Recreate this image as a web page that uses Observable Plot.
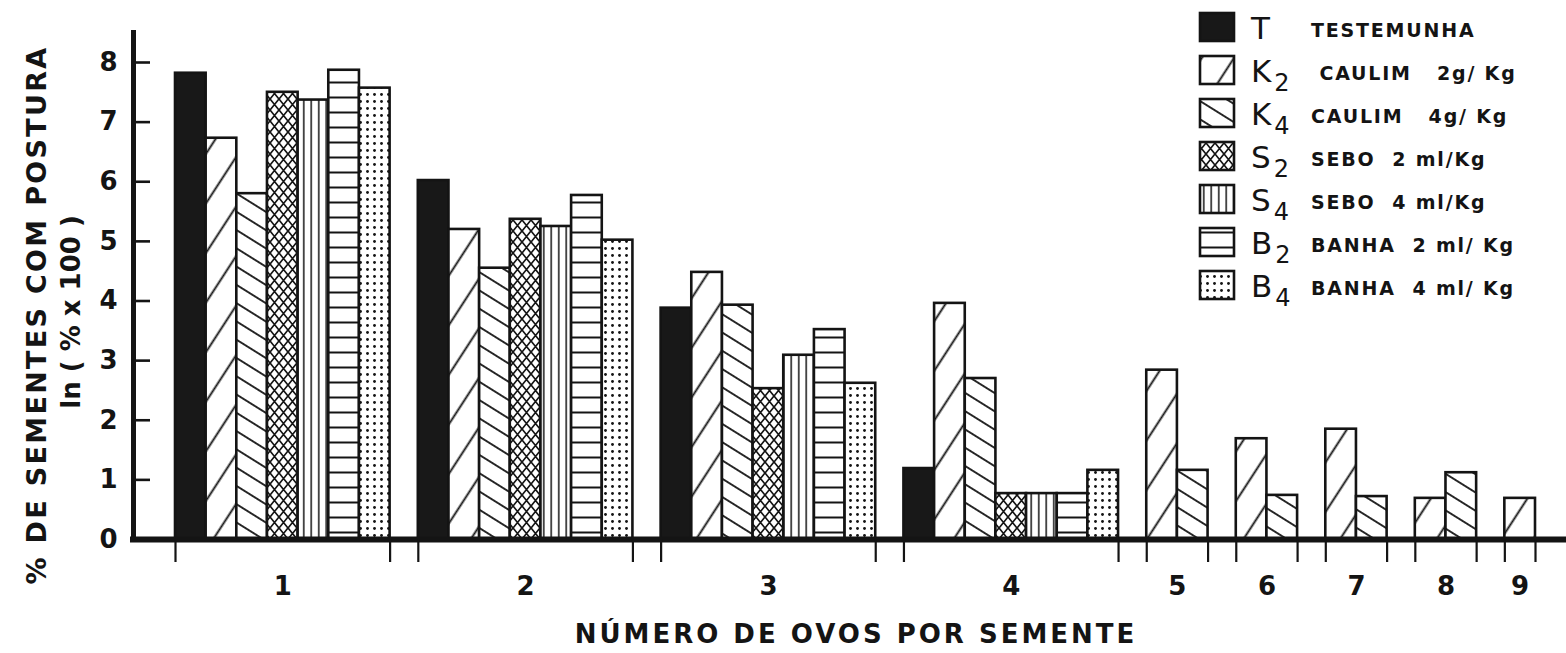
<!DOCTYPE html>
<html>
<head>
<meta charset="utf-8">
<script src="https://cdn.jsdelivr.net/npm/d3@7"></script>
<script src="https://cdn.jsdelivr.net/npm/@observablehq/plot@0.6"></script>
<style>
  html, body { margin: 0; padding: 0; background: #ffffff; }
  #chart { width: 1566px; height: 653px; }
  svg text { white-space: pre; }
</style>
</head>
<body>
<div id="chart"></div>
<script>
// ---------- DATA ----------
const groups = ["1", "2", "3", "4", "5", "6", "7", "8", "9"];
const seriesKeys = ["T", "K2", "K4", "S2", "S4", "B2", "B4"];
const T  = [7.82, 6.02, 3.88, 1.19, null, null, null, null, null];
const K2 = [6.73, 5.20, 4.48, 3.96, 2.84, 1.69, 1.85, 0.69, 0.69];
const K4 = [5.80, 4.55, 3.93, 2.70, 1.16, 0.74, 0.72, 1.12, null];
const S2 = [7.50, 5.37, 2.53, 0.77, null, null, null, null, null];
const S4 = [7.37, 5.25, 3.09, 0.77, null, null, null, null, null];
const B2 = [7.87, 5.77, 3.52, 0.77, null, null, null, null, null];
const B4 = [7.57, 5.02, 2.62, 1.16, null, null, null, null, null];
const yTicks = [0, 1, 2, 3, 4, 5, 6, 7, 8];
const legendLetters = ["T", "K", "K", "S", "S", "B", "B"];
const legendSubs = ["", "2", "4", "2", "4", "2", "4"];
const legendNames = ["TESTEMUNHA", " CAULIM   2g/ Kg", "CAULIM   4g/ Kg", "SEBO  2 ml/Kg", "SEBO  4 ml/Kg", "BANHA  2 ml/ Kg", "BANHA  4 ml/ Kg"];
const yTitle1 = "% DE SEMENTES COM POSTURA";
const yTitle2 = "ln ( % x 100 )";
const xTitle = "NÚMERO DE OVOS POR SEMENTE";

// ---------- LAYOUT ----------
const seriesValues = {T, K2, K4, S2, S4, B2, B4};
const GAP = 0.92;  // gap between groups, in bar widths
const rows = [];
const groupInfo = [];
let start = 0;
groups.forEach((g, gi) => {
  let slot = 0;
  seriesKeys.forEach(s => {
    const v = seriesValues[s][gi];
    if (v != null) {
      rows.push({group: g, series: s, value: v, x1: start + slot, x2: start + slot + 1});
      slot++;
    }
  });
  groupInfo.push({group: g, x1: start, x2: start + slot, center: start + slot / 2});
  start += slot + GAP;
});
const dataEnd = start - GAP;
const W = 1566, H = 653;
const mL = 133, mR = 0, mT = 30, mB = 114;
const barsLeftPx = 175, barsRightPx = 1535;
const ppu = (barsRightPx - barsLeftPx) / dataEnd;
const x0 = -(barsLeftPx - mL) / ppu;
const x1 = dataEnd + (W - mR - barsRightPx) / ppu;
const yTop = 8 + (62 - mT) / ((H - mB - 62) / 8);
const ppy = (H - mB - mT) / yTop;

const FONT = "DejaVu Sans";
const INK = "#141414";

const marks = [];
seriesKeys.forEach(s => {
  marks.push(Plot.rect(rows.filter(d => d.series === s), {
    x1: "x1", x2: "x2", y1: 0, y2: "value",
    fill: s === "T" ? "#181818" : `url(#pat-${s})`,
    stroke: INK, strokeWidth: 2.6
  }));
});
// axes
marks.push(Plot.ruleY([0], {stroke: INK, strokeWidth: 6, strokeLinecap: "square"}));
marks.push(Plot.ruleX([x0], {y1: 0, y2: yTop, stroke: INK, strokeWidth: 5}));
marks.push(Plot.ruleY(yTicks.filter(d => d > 0), {x1: x0, x2: x0 + 17 / ppu, stroke: INK, strokeWidth: 2.6}));
marks.push(Plot.text(yTicks, {x: x0, y: d => d, text: d => String(d), dx: -16, textAnchor: "end",
  fontSize: 26, fontFamily: FONT, fontWeight: "bold", fill: INK}));
marks.push(Plot.ruleX(groupInfo.flatMap(g => [g.x1, g.x2]), {y1: 0, y2: -23 / ppy, stroke: INK, strokeWidth: 2.2}));
marks.push(Plot.text(groupInfo, {x: "center", y: 0, text: "group", dy: 47,
  fontSize: 26, fontFamily: FONT, fontWeight: "bold", fill: INK}));

const chart = Plot.plot({
  width: W, height: H,
  marginLeft: mL, marginRight: mR, marginTop: mT, marginBottom: mB,
  x: {domain: [x0, x1], axis: null},
  y: {domain: [0, yTop], axis: null},
  style: {background: "#ffffff", overflow: "visible"},
  marks
});
document.getElementById("chart").appendChild(chart);
const svg = d3.select(chart.tagName.toLowerCase() === "svg" ? chart : chart.querySelector("svg"));

// ---------- PATTERNS ----------
const defs = svg.insert("defs", ":first-child");
function pattern(id, w, h, transform) {
  const p = defs.append("pattern").attr("id", id).attr("patternUnits", "userSpaceOnUse")
    .attr("width", w).attr("height", h);
  if (transform) p.attr("patternTransform", transform);
  p.append("rect").attr("width", w).attr("height", h).attr("fill", "#ffffff");
  return p;
}
pattern("pat-K2", 27, 20, "rotate(33)")
  .append("path").attr("d", "M13.5,-2V22").attr("stroke", INK).attr("stroke-width", 1.9);
pattern("pat-K4", 10, 15.5, "rotate(32)")
  .append("path").attr("d", "M-2,7.75H12").attr("stroke", INK).attr("stroke-width", 1.8);
pattern("pat-S2", 9, 11, null)
  .append("path").attr("d", "M-1,-1.22L10,12.22M10,-1.22L-1,12.22").attr("stroke", INK).attr("stroke-width", 1.7);
pattern("pat-S4", 7.5, 10, null)
  .append("path").attr("d", "M3.75,-1V11").attr("stroke", INK).attr("stroke-width", 1.5);
pattern("pat-B2", 10, 15, null)
  .append("path").attr("d", "M-1,7.5H11").attr("stroke", INK).attr("stroke-width", 2);
pattern("pat-B4", 7, 7, null)
  .append("circle").attr("cx", 3.5).attr("cy", 3.5).attr("r", 1.45).attr("fill", INK);

// ---------- TITLES ----------
const t = svg.append("g").attr("font-family", FONT).attr("fill", INK).attr("font-weight", "bold");
t.append("text").attr("transform", "translate(36,315) rotate(-90)")
  .attr("text-anchor", "middle").attr("dominant-baseline", "central")
  .attr("font-size", 27).attr("letter-spacing", 2.3).text(yTitle1);
t.append("text").attr("transform", "translate(71,312) rotate(-90)")
  .attr("text-anchor", "middle").attr("dominant-baseline", "central")
  .attr("font-size", 26).attr("letter-spacing", 0).text(yTitle2);
t.append("text").attr("x", 856).attr("y", 643)
  .attr("text-anchor", "middle").attr("font-size", 26).attr("letter-spacing", 3).text(xTitle);

// ---------- LEGEND ----------
const lg = svg.append("g").attr("font-family", FONT).attr("fill", INK).attr("text-anchor", "start");
seriesKeys.forEach((s, i) => {
  const top = 13 + i * 43;
  lg.append("rect").attr("x", 1200).attr("y", top).attr("width", 34).attr("height", 28)
    .attr("fill", s === "T" ? "#181818" : `url(#pat-${s})`).attr("stroke", INK).attr("stroke-width", 2.6);
  const sym = lg.append("text").attr("x", 1251).attr("y", top + 26).attr("font-size", 31)
    .attr("text-anchor", "start");
  sym.append("tspan").text(legendLetters[i]);
  if (legendSubs[i]) sym.append("tspan").attr("dx", 3).attr("dy", 9).attr("font-size", 24).text(legendSubs[i]);
  lg.append("text").attr("x", 1311).attr("y", top + 24).attr("font-size", 19).attr("font-weight", "bold")
    .attr("text-anchor", "start").attr("letter-spacing", 1.8).text(legendNames[i]);
});
</script>
</body>
</html>
